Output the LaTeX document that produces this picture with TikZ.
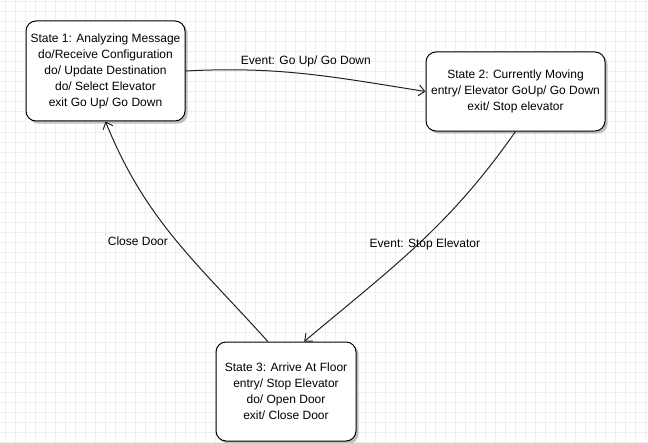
\documentclass[tikz,border=0pt]{standalone}
\usepackage{fontspec}
\setmainfont{Liberation Sans}
\usepackage{xcolor}
\usetikzlibrary{
	arrows.meta,shapes,shadows
}
\definecolor{gridline}{HTML}{EFEFEF}
\definecolor{wire}{HTML}{222222}

\begin{document}
\begin{tikzpicture}[x=0.75pt,y=-0.75pt,
	>={Straight Barb[length=4.5pt,width=8pt]},
	state/.style={draw,rounded corners=7.5pt,fill=white,align=center,line width=0.75pt,
		drop shadow={shadow xshift=2pt,shadow yshift=-2pt,fill=black!40,opacity=0.6},
		font=\fontsize{9}{12}\selectfont},
	lbl/.style={font=\fontsize{9}{11}\selectfont,inner sep=2pt},
	trans/.style={->,draw=wire,line width=0.75pt}]
	\useasboundingbox (0,0) rectangle (648,442);
	\fill[white] (0,0) rectangle (648,442);
	\foreach \x in {5,15,...,645} \draw[gridline,line width=0.75pt] (\x,0) -- (\x,442);
	\foreach \y in {2,12,...,442} \draw[gridline,line width=0.75pt] (0,\y) -- (648,\y);
	%
	\node[state,minimum width=119.25pt,minimum height=75pt] (s1) at (105.5,71)
		{State 1: Analyzing Message\\do/Receive Configuration\\do/ Update Destination\\do/ Select Elevator\\exit Go Up/ Go Down};
	\node[state,minimum width=134.25pt,minimum height=59.25pt] (s2) at (515.5,91.5)
		{State 2: Currently Moving\\entry/ Elevator GoUp/ Go Down\\exit/ Stop elevator};
	\node[state,minimum width=105pt,minimum height=74.25pt] (s3) at (286,391.5)
		{State 3: Arrive At Floor\\entry/ Stop Elevator\\do/ Open Door\\exit/ Close Door};
	%
	\draw [trans] (s1.east) to[out=3,in=171] node[lbl,above=3pt] {Event: Go Up/ Go Down} (s2.west);
	\draw [trans] (s2.south) to[out=235,in=40] node[lbl,pos=0.5,xshift=5pt] {Event: Stop Elevator} (s3.70);
	\draw [trans] (s3.110) to[out=132,in=-68] node[lbl,left=4pt,pos=0.49] {Close Door} (s1.south);
\end{tikzpicture}
\end{document}
